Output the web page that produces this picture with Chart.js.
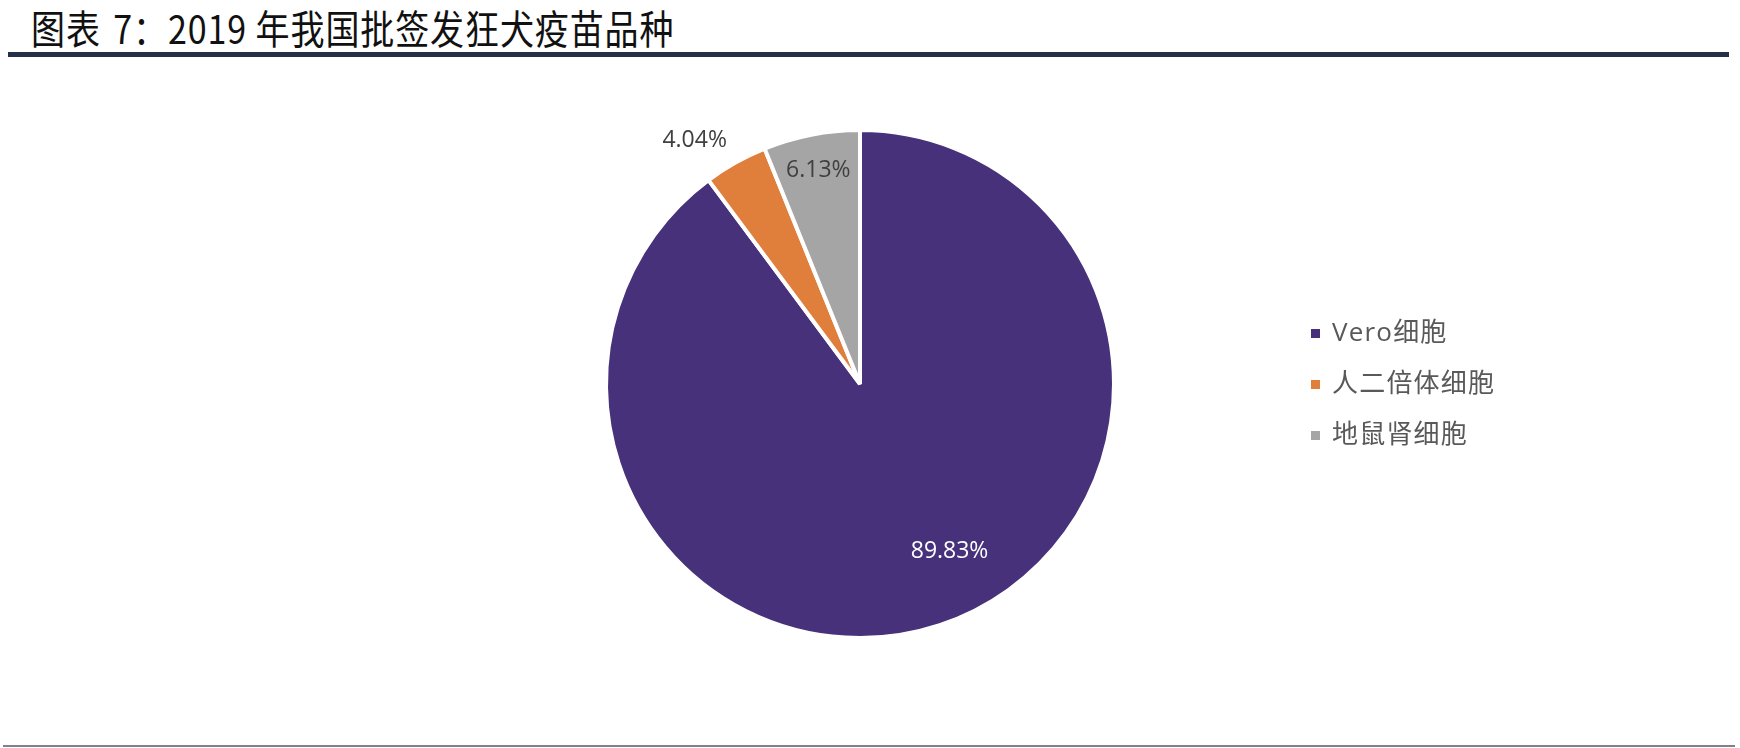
<!DOCTYPE html>
<html lang="zh-CN">
<head>
<meta charset="utf-8">
<title>2019年我国批签发狂犬疫苗品种</title>
<script src="https://cdn.jsdelivr.net/npm/chart.js@4.4.1/dist/chart.umd.min.js"></script>
<style>
  html, body { margin: 0; padding: 0; background: #ffffff; }
  #page { position: relative; width: 1740px; height: 748px; overflow: hidden; background: #ffffff; }
  #title {
    position: absolute; left: 31px; top: 8px; height: 40px; line-height: 40px;
    font-family: "Noto Sans CJK SC", "Noto Sans", sans-serif;
    font-size: 34px; font-weight: 400; color: #111111; white-space: nowrap;
    letter-spacing: 0.9px;
    transform: scaleY(1.16); transform-origin: left center;
  }
  #title .gap { margin-left: 4px; }
  #titleRule { position: absolute; left: 8px; top: 52px; width: 1721px; height: 5px; background: #243048; }
  #footRule { position: absolute; left: 3px; top: 745px; width: 1732px; height: 2px; background: #7f8289; }
  #chartBox { position: absolute; left: 0; top: 0; width: 1740px; height: 748px; }
</style>
</head>
<body>
<div id="page">
  <div id="title">图表<span class="gap"> </span>7：2019 年我国批签发狂犬疫苗品种</div>
  <div id="titleRule"></div>
  <div id="chartBox"><canvas id="pie" width="1740" height="748"></canvas></div>
  <div id="footRule"></div>
</div>
<script>
// Vaccine cell substrates and their share of 2019 lot releases (%)
const categories = ['Vero细胞', '人二倍体细胞', '地鼠肾细胞'];
const shares = [89.83, 4.04, 6.13];
const sliceColors = ['#46317a', '#e07e3c', '#a5a5a5'];

// Where each percentage label sits: fraction of the radius and an angular nudge (degrees)
const labelPlacement = [
  { r: 0.746, turn: -9.9, color: '#ffffff' },
  { r: 1.16,  turn: -4.8, color: '#404040' },
  { r: 0.857, turn: 0,    color: '#404040' }
];

const valueLabels = {
  id: 'valueLabels',
  afterDatasetsDraw(chart) {
    const ctx = chart.ctx;
    const meta = chart.getDatasetMeta(0);
    ctx.save();
    ctx.font = '23px "Open Sans", "Noto Sans", sans-serif';
    ctx.textAlign = 'center';
    ctx.textBaseline = 'middle';
    meta.data.forEach((arc, i) => {
      const p = arc.getProps(['x', 'y', 'startAngle', 'endAngle', 'outerRadius'], true);
      const place = labelPlacement[i];
      const mid = (p.startAngle + p.endAngle) / 2 + place.turn * Math.PI / 180;
      const rr = p.outerRadius * place.r;
      ctx.fillStyle = place.color;
      ctx.fillText(chart.data.datasets[0].data[i].toFixed(2) + '%',
                   p.x + Math.cos(mid) * rr, p.y + Math.sin(mid) * rr);
    });
    ctx.restore();
  }
};

// Legend block on the right: small square swatch + label per slice
const sideLegend = {
  id: 'sideLegend',
  afterDraw(chart) {
    const ctx = chart.ctx;
    const ds = chart.data.datasets[0];
    const x0 = 1311, y0 = 333.5, step = 51, box = 9;
    ctx.save();
    ctx.font = '26px "Open Sans", "Noto Sans CJK SC", sans-serif';
    if ('letterSpacing' in ctx) ctx.letterSpacing = '1.2px';
    ctx.textAlign = 'left';
    ctx.textBaseline = 'middle';
    chart.data.labels.forEach((label, i) => {
      const y = y0 + i * step;
      ctx.fillStyle = ds.backgroundColor[i];
      ctx.fillRect(x0, y - box / 2, box, box);
      ctx.fillStyle = '#595959';
      ctx.fillText(label, x0 + 21, y);
    });
    ctx.restore();
  }
};

new Chart(document.getElementById('pie'), {
  type: 'pie',
  data: {
    labels: categories,
    datasets: [{
      data: shares,
      backgroundColor: sliceColors,
      borderColor: '#ffffff',
      borderWidth: 4
    }]
  },
  options: {
    responsive: false,
    animation: false,
    devicePixelRatio: 1,
    radius: 254,
    layout: { padding: { left: 606, right: 626, top: 130, bottom: 110 } },
    plugins: {
      legend: { display: false },
      tooltip: { enabled: false },
      title: { display: false }
    }
  },
  plugins: [valueLabels, sideLegend]
});
</script>
</body>
</html>
